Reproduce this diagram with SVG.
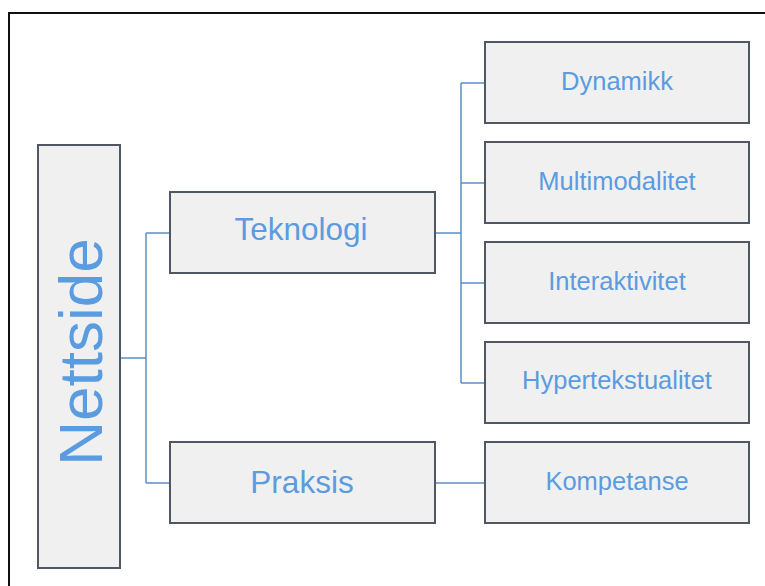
<svg xmlns="http://www.w3.org/2000/svg" width="765" height="586" viewBox="0 0 765 586">
<style>
.box{fill:#f0f0f0;stroke:#4f5765;stroke-width:2}
.lbl{font-family:"Liberation Sans",Arial,sans-serif;fill:#5b9be0;text-anchor:middle}
.con{fill:none;stroke:#5b8ec6;stroke-width:1.5}
</style>
<rect x="0" y="0" width="765" height="586" fill="#ffffff"/>
<rect x="9" y="13" width="800" height="620" fill="none" stroke="#111" stroke-width="2"/>
<g id="connectors">
<path class="con" d="M120 358H146M146 233V483M146 233H170M146 483H170"/>
<path class="con" d="M435 233H461M461 83V383M461 83H485M461 183H485M461 283H485M461 383H485"/>
<path class="con" d="M435 483H485"/>
</g>
<g id="nettside">
<rect class="box" x="38" y="145" width="82" height="423"/>
<text class="lbl" transform="translate(102,352) rotate(-90)" x="0" y="0" font-size="62">Nettside</text>
</g>
<g id="teknologi">
<rect class="box" x="170" y="192" width="265" height="81"/>
<text class="lbl" x="301" y="240" font-size="31.5">Teknologi</text>
</g>
<g id="praksis">
<rect class="box" x="170" y="442" width="265" height="81"/>
<text class="lbl" x="302" y="493" font-size="31.5">Praksis</text>
</g>
<g id="dynamikk">
<rect class="box" x="485" y="42" width="264" height="81"/>
<text class="lbl" x="617" y="90" font-size="25.5">Dynamikk</text>
</g>
<g id="multimodalitet">
<rect class="box" x="485" y="142" width="264" height="81"/>
<text class="lbl" x="617" y="190" font-size="25.5">Multimodalitet</text>
</g>
<g id="interaktivitet">
<rect class="box" x="485" y="242" width="264" height="81"/>
<text class="lbl" x="617" y="290" font-size="25.5">Interaktivitet</text>
</g>
<g id="hypertekstualitet">
<rect class="box" x="485" y="342" width="264" height="81"/>
<text class="lbl" x="617" y="389" font-size="25.5">Hypertekstualitet</text>
</g>
<g id="kompetanse">
<rect class="box" x="485" y="442" width="264" height="81"/>
<text class="lbl" x="617" y="490" font-size="25.5">Kompetanse</text>
</g>
</svg>
